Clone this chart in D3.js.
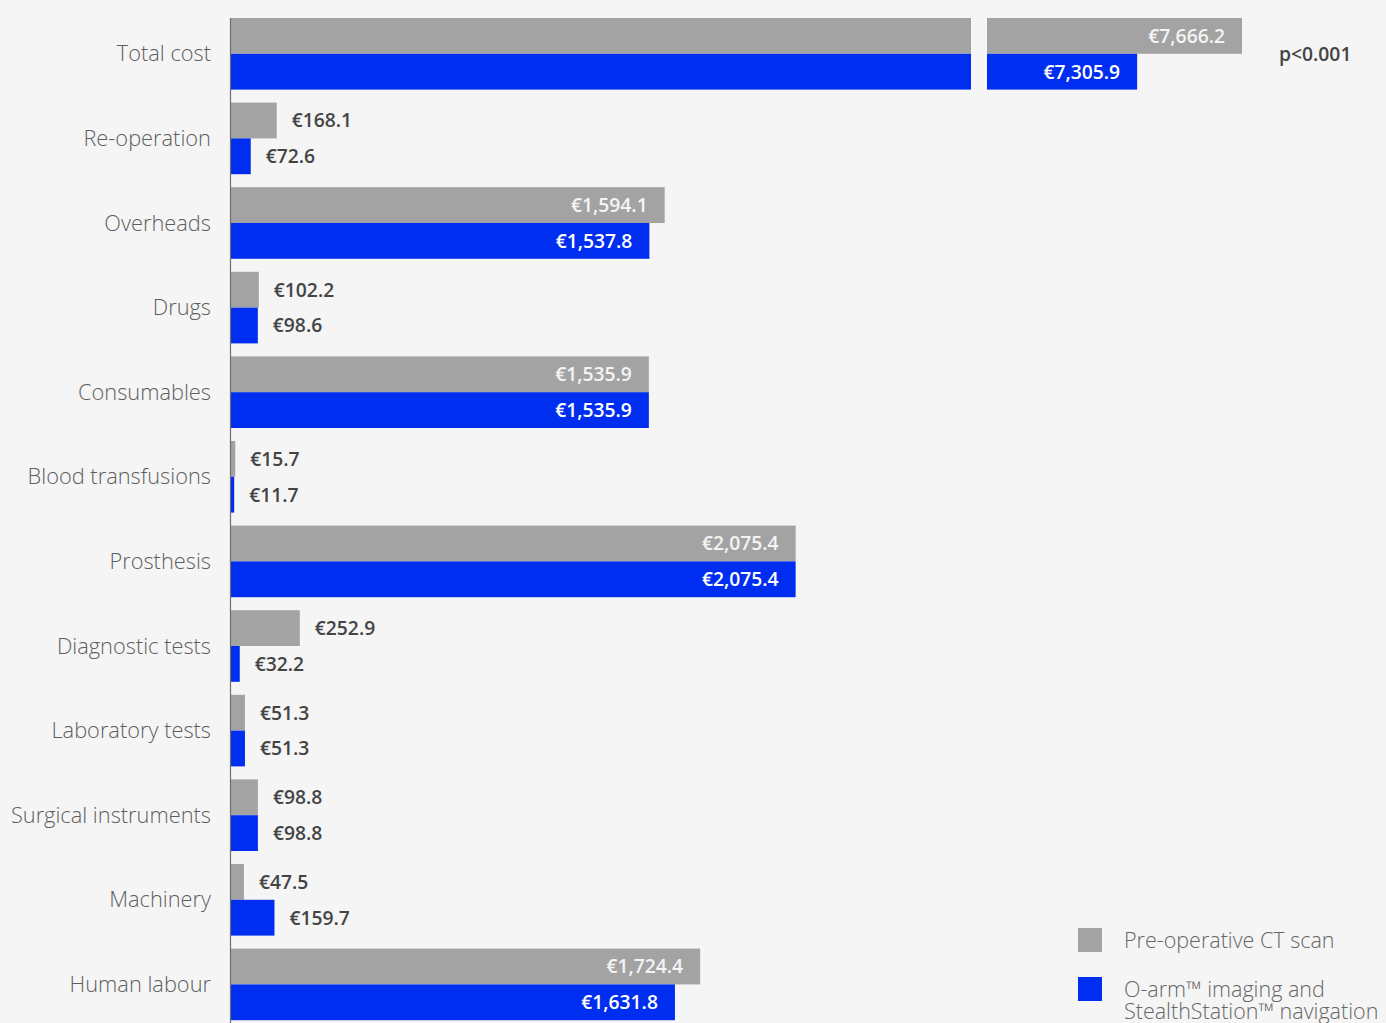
<!DOCTYPE html>
<html>
<head>
<meta charset="utf-8">
<script src="https://cdn.jsdelivr.net/npm/d3@7"></script>
<style>
  html, body { margin: 0; padding: 0; background: #f5f5f5; }
  svg { display: block; }
  .cat { font-family: "Open Sans", Lato, sans-serif; font-weight: 300; font-size: 21.8px; fill: #5e5e5e; }
  .val { font-family: "Open Sans", Lato, sans-serif; font-weight: 600; font-size: 19.3px; }
  .legend { font-family: "Open Sans", Lato, sans-serif; font-weight: 300; font-size: 21.5px; fill: #666; }
</style>
</head>
<body>
<svg id="chart" width="1386" height="1023"></svg>
<script>
// Cost categories (top to bottom) and mean cost per patient for each pathway
const categories = [
  "Total cost", "Re-operation", "Overheads", "Drugs", "Consumables",
  "Blood transfusions", "Prosthesis", "Diagnostic tests", "Laboratory tests",
  "Surgical instruments", "Machinery", "Human labour"
];
const ctScan = [7666.2, 168.1, 1594.1, 102.2, 1535.9, 15.7, 2075.4, 252.9, 51.3, 98.8, 47.5, 1724.4];
const oArm   = [7305.9, 72.6, 1537.8, 98.6, 1535.9, 11.7, 2075.4, 32.2, 51.3, 98.8, 159.7, 1631.8];
const seriesKeys = ["ct", "oarm"];
const legendLines = [["Pre-operative CT scan"], ["O-arm\u2122 imaging and", "StealthStation\u2122 navigation"]];
const pValue = "p<0.001";

// Value axis is broken between these two amounts so the total fits
const axisBreak = [2720, 6790];

const W = 1386, H = 1023;
const colors = { ct: "#a3a3a3", oarm: "#002ef0" };

const svg = d3.select("#chart");

const rows = categories.map((c, i) => ({ cat: c, ct: ctScan[i], oarm: oArm[i] }));

const x = d3.scaleLinear()
  .domain([0, axisBreak[0], axisBreak[1], d3.max(ctScan)])
  .range([231, 971, 987, 1242]);

const step = 84.6, gap = 13;
const y = d3.scaleBand()
  .domain(categories)
  .range([18 - gap / 2, 18 - gap / 2 + step * categories.length])
  .paddingInner(gap / step)
  .paddingOuter(gap / step / 2);

const ySub = d3.scaleBand().domain(seriesKeys).range([0, y.bandwidth()]);

const fmt = d3.format(",.1f");

// Category labels
const axis = d3.axisLeft(y).tickSize(0).tickPadding(19);
const gAxis = svg.append("g").attr("transform", `translate(230,0)`).call(axis);
gAxis.select(".domain").remove();
gAxis.selectAll("text").attr("class", "cat").attr("fill", null).attr("font-size", null).attr("font-family", null).attr("dy", "0.35em");

// Bars: values beyond the lower break continue in the second segment
seriesKeys.forEach(key => {
  const segs = [];
  rows.forEach(d => {
    const v = d[key];
    segs.push({ d, x0: 0, x1: Math.min(v, axisBreak[0]) });
    if (v > axisBreak[1]) segs.push({ d, x0: axisBreak[1], x1: v });
  });
  svg.append("g").selectAll("rect").data(segs).join("rect")
    .attr("x", s => x(s.x0))
    .attr("y", s => y(s.d.cat) + ySub(key))
    .attr("width", s => x(s.x1) - x(s.x0))
    .attr("height", ySub.bandwidth())
    .attr("fill", colors[key]);

  // Value labels: inside (white) for long bars, outside (dark) for short ones
  svg.append("g").selectAll("text").data(rows).join("text")
    .attr("class", "val")
    .attr("y", d => y(d.cat) + ySub(key) + ySub.bandwidth() / 2)
    .attr("dy", "0.36em")
    .each(function (d) {
      const v = d[key];
      const end = x(v);
      const inside = end - x(0) > 150;
      d3.select(this)
        .attr("x", inside ? end - 17 : end + 15)
        .attr("text-anchor", inside ? "end" : "start")
        .attr("fill", inside ? (key === "ct" ? "#f4f4f4" : "#ffffff") : "#444")
        .text("\u20ac" + fmt(v));
    });
});

// Vertical baseline
svg.append("line")
  .attr("x1", 230.5).attr("x2", 230.5)
  .attr("y1", y(categories[0])).attr("y2", H)
  .attr("stroke", "#6e6e6e").attr("stroke-width", 1.2);

// Significance note beside the total
svg.append("text")
  .attr("class", "val")
  .attr("x", 1279)
  .attr("y", y(categories[0]) + y.bandwidth() / 2)
  .attr("dy", "0.36em")
  .attr("fill", "#444")
  .text(pValue);

// Legend
const legend = svg.append("g").attr("transform", "translate(1078,928)");
seriesKeys.forEach((key, i) => {
  const g = legend.append("g").attr("transform", `translate(0,${i * 49})`);
  g.append("rect").attr("width", 24).attr("height", 24).attr("fill", colors[key]);
  const t = g.append("text").attr("class", "legend").attr("y", 12);
  legendLines[i].forEach((line, j) => {
    t.append("tspan").attr("x", 46).attr("dy", j === 0 ? "0.35em" : "1.06em").text(line);
  });
});
</script>
</body>
</html>
